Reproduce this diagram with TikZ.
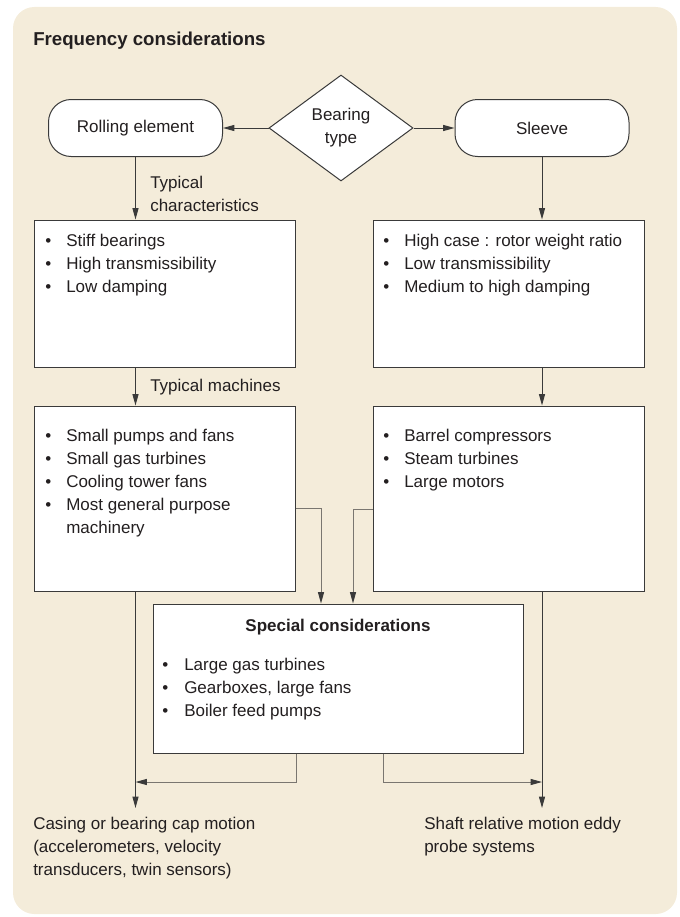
\documentclass[tikz,border=0pt]{standalone}
\usepackage{fontspec}
\setmainfont{Liberation Sans}
\usetikzlibrary{arrows.meta,shapes.geometric}
\definecolor{bgc}{HTML}{F4ECDA}
\definecolor{ink}{HTML}{231F20}
\definecolor{lnc}{HTML}{3A3A3A}
\definecolor{lnl}{HTML}{7A7670}
\newcommand\bl{\makebox[15.75pt][l]{\textbullet}}
\newcommand\blsp{\hspace*{15.75pt}}
\begin{document}
\begin{tikzpicture}[x=0.75pt,y=-0.75pt,
  font=\fontsize{12.75pt}{17.25pt}\selectfont, text=ink,
  box/.style 2 args={draw=lnc, fill=white, line width=0.75pt, inner sep=0,
     minimum width=#1*0.75pt, minimum height=#2*0.75pt},
  pill/.style={draw=lnc, fill=white, line width=0.75pt, rounded corners=17pt,
     minimum width=174*0.75pt, minimum height=57*0.75pt, inner sep=0},
  txt/.style={anchor=base west, inner sep=0},
  arr/.style={draw=lnc, line width=0.75pt, -{Triangle[length=8.5pt,width=4.5pt]}},
  arrl/.style={draw=lnl, line width=0.7pt, -{Triangle[length=8.5pt,width=4.5pt,color=lnc]}}]
\useasboundingbox (0,0) rectangle (680,917);
\fill[bgc, rounded corners=16pt] (13,7) rectangle (677,914);

\node[txt, font=\fontsize{14pt}{17pt}\selectfont\bfseries] (title) at (33,46) {Frequency considerations};

% top row
\node[diamond, draw=lnc, fill=white, line width=0.75pt, inner sep=0, align=center,
  minimum width=144*0.75pt, minimum height=106*0.75pt] (bt) at (341,128) {Bearing\\type};
\node[pill] (re) at (135.5,128) {Rolling element};
\node[pill] (sl) at (542,128) {Sleeve};
\draw[arr] (bt.west) -- (re.east);
\draw[arr] (bt.east) -- (sl.west);

% boxes
\node[box={261}{147}] (b1) at (164.5,293.5) {};
\node[box={271}{147}] (b2) at (508.5,293.5) {};
\node[box={261}{185}] (b3) at (164.5,498.5) {};
\node[box={271}{185}] (b4) at (508.5,498.5) {};
\node[box={370}{149}] (sp) at (338,678.5) {};

\node[txt] (t1) at (45,246.5) {\begin{tabular}[t]{@{}l@{}}\bl Stiff bearings\\ \bl High transmissibility\\ \bl Low damping\end{tabular}};
\node[txt] (t2) at (383,246.5) {\begin{tabular}[t]{@{}l@{}}\bl High case : rotor weight ratio\\ \bl Low transmissibility\\ \bl Medium to high damping\end{tabular}};
\node[txt] (t3) at (45,441) {\begin{tabular}[t]{@{}l@{}}\bl Small pumps and fans\\ \bl Small gas turbines\\ \bl Cooling tower fans\\ \bl Most general purpose\\ \blsp machinery\end{tabular}};
\node[txt] (t4) at (383,441) {\begin{tabular}[t]{@{}l@{}}\bl Barrel compressors\\ \bl Steam turbines\\ \bl Large motors\end{tabular}};
\node[anchor=base, inner sep=0, font=\fontsize{12.75pt}{17.25pt}\selectfont\bfseries] (spt) at (338,631) {Special considerations};
\node[txt] (t5) at (162,670) {\begin{tabular}[t]{@{}l@{}}\makebox[16.5pt][l]{\textbullet}Large gas turbines\\ \makebox[16.5pt][l]{\textbullet}Gearboxes, large fans\\ \makebox[16.5pt][l]{\textbullet}Boiler feed pumps\end{tabular}};

% vertical connectors
\draw[arr] (re.south) -- (re.south |- b1.north);
\node[txt] (lab1) at (150,188) {\begin{tabular}[t]{@{}l@{}}Typical\\characteristics\end{tabular}};
\draw[arr] (sl.south) -- (sl.south |- b2.north);
\draw[arr] (re.south |- b1.south) -- (re.south |- b3.north);
\node[txt] (lab2) at (150,391) {Typical machines};
\draw[arr] (sl.south |- b2.south) -- (sl.south |- b4.north);

% to special
\draw[arrl] (b3.east |- 0,508) -| ([xshift=-17*0.75pt]sp.north);
\draw[arrl] (b4.west |- 0,509) -| ([xshift=15*0.75pt]sp.north);

% outputs
\coordinate (le) at (135.5,808);
\coordinate (rt) at (542,808);
\draw[arr] (re.south |- b3.south) -- (le);
\draw[arr] (sl.south |- b4.south) -- (rt);
\draw[arrl] ([xshift=-42*0.75pt]sp.south) |- (re.south |- 0,782);
\draw[arrl] ([xshift=45*0.75pt]sp.south) |- (sl.south |- 0,782);

\node[txt] (out1) at (33,829) {\begin{tabular}[t]{@{}l@{}}Casing or bearing cap motion\\(accelerometers, velocity\\transducers, twin sensors)\end{tabular}};
\node[txt] (out2) at (424,829) {\begin{tabular}[t]{@{}l@{}}Shaft relative motion eddy\\probe systems\end{tabular}};
\end{tikzpicture}
\end{document}
